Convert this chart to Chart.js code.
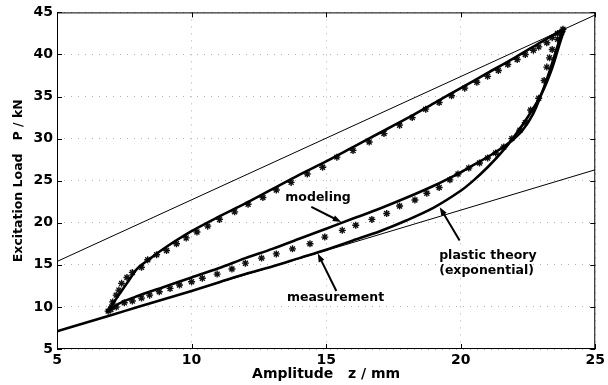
<!DOCTYPE html>
<html>
<head>
<meta charset="utf-8">
<script src="https://cdn.jsdelivr.net/npm/chart.js@4"></script>
<style>
  html, body { margin: 0; padding: 0; background: #fff; }
  #wrap { width: 608px; height: 385px; }
</style>
</head>
<body>
<div id="wrap"><canvas id="chart" width="608" height="385"></canvas></div>
<script>
// tick labels
const xTicks = [5, 10, 15, 20, 25];
const yTicks = [5, 10, 15, 20, 25, 30, 35, 40, 45];

// modeling: loading branch
const modelUpX = [6.85, 7.1, 7.4, 7.7, 8.0, 8.4, 9, 10, 11, 12, 13, 14, 15, 16, 17, 18, 19, 20, 21, 22, 23, 23.8];
const modelUpY = [9.4, 10.5, 11.9, 13.3, 14.6, 15.6, 17.0, 19.0, 20.7, 22.3, 24.0, 25.7, 27.3, 29.0, 30.7, 32.4, 34.2, 36.0, 37.8, 39.6, 41.5, 43.0];

// modeling: unloading branch
const modelDownX = [23.8, 23.55, 23.3, 23.0, 22.7, 22.3, 21.8, 21.2, 20.5, 20, 19, 18, 17, 16, 15, 14, 13, 12, 11, 10, 9, 8, 7.3, 6.85];
const modelDownY = [43.0, 40.5, 38.0, 35.3, 33.0, 31.0, 29.5, 28.2, 26.9, 26.0, 24.4, 23.0, 21.7, 20.5, 19.3, 18.1, 16.9, 15.8, 14.6, 13.5, 12.4, 11.3, 10.4, 9.4];

// measurement (stars), around the loop
const measX = [7.03, 7.07, 7.2, 7.3, 7.4, 7.6, 7.8, 8.14, 8.37, 8.7, 9.07, 9.44, 9.8, 10.2, 10.6, 11.04, 11.6, 12.1, 12.65, 13.15, 13.7, 14.3, 14.87, 15.4, 16.0, 16.6, 17.15, 17.73, 18.2, 18.7, 19.2, 19.66, 20.15, 20.6, 21.0, 21.4, 21.75, 22.1, 22.4, 22.7, 22.9, 23.2, 23.4, 23.6, 23.8,
  23.75, 23.6, 23.4, 23.3, 23.2, 23.1, 22.9, 22.6, 22.4, 22.2, 21.9, 21.6, 21.3, 21.0, 20.7, 20.3, 19.9, 19.6, 19.2, 18.74, 18.3, 17.73, 17.25, 16.7, 16.1, 15.6, 14.95, 14.4, 13.75, 13.15, 12.6, 12.0, 11.5, 10.95, 10.4, 10.0, 9.55, 9.2, 8.8, 8.44, 8.14, 7.8, 7.5, 7.2, 7.0, 6.9];
const measY = [10.0, 10.6, 11.4, 12.0, 12.8, 13.5, 14.1, 14.7, 15.6, 16.2, 16.7, 17.5, 18.2, 18.9, 19.6, 20.4, 21.3, 22.2, 23.0, 23.9, 24.8, 25.8, 26.6, 27.8, 28.6, 29.6, 30.6, 31.6, 32.5, 33.5, 34.3, 35.1, 36.0, 36.7, 37.4, 38.1, 38.8, 39.4, 40.0, 40.5, 40.9, 41.4, 42.0, 42.5, 43.0,
  42.6, 41.8, 40.6, 39.6, 38.5, 36.9, 34.8, 33.4, 31.9, 31.0, 30.0, 29.0, 28.3, 27.7, 27.1, 26.5, 25.8, 25.1, 24.2, 23.5, 22.7, 22.0, 21.1, 20.4, 19.7, 19.1, 18.3, 17.5, 16.9, 16.3, 15.8, 15.2, 14.5, 13.9, 13.4, 13.0, 12.6, 12.2, 11.8, 11.4, 11.05, 10.7, 10.5, 10.0, 9.7, 9.5];

// plastic theory (exponential)
const plasticX = [5, 6, 7, 8, 9, 10, 11, 12, 13, 14, 15, 16, 17, 18, 19, 20, 20.5, 21, 21.5, 22, 22.5, 23, 23.4, 23.7, 23.85];
const plasticY = [7.1, 8.05, 9.0, 10.0, 10.95, 11.9, 12.9, 13.9, 14.8, 15.8, 16.8, 17.9, 19.0, 20.3, 21.8, 23.8, 25.1, 26.6, 28.3, 30.3, 32.6, 35.3, 38.4, 41.5, 43.0];

// straight reference lines
const refUpperX = [5, 25];
const refUpperY = [15.4, 44.7];
const refLowerX = [5, 25];
const refLowerY = [7.1, 26.3];

const pts = (xs, ys) => xs.map((x, i) => ({ x, y: ys[i] }));

const FONT = 'DejaVu Sans';

// text labels with arrows, in data units
const notes = [
  { lines: ['modeling'], x: 14.7, y: 22.97, align: 'center', arrow: [14.45, 21.88, 15.56, 20.1] },
  { lines: ['measurement'], x: 15.35, y: 11.05, align: 'center', arrow: [15.38, 11.9, 14.69, 16.35] },
  { lines: ['plastic theory', '(exponential)'], x: 19.2, y: 16.03, align: 'left', arrow: [19.96, 17.9, 19.22, 21.85] },
];

const framePlugin = {
  id: 'frame',
  afterDraw(chart) {
    const { ctx, chartArea: a, scales } = chart;
    ctx.save();
    ctx.strokeStyle = '#000';
    ctx.lineWidth = 1;
    ctx.strokeRect(a.left + 0.5, a.top + 0.5, a.right - a.left - 1, a.bottom - a.top - 1);
    // inward ticks
    ctx.beginPath();
    xTicks.forEach(v => {
      const px = Math.round(scales.x.getPixelForValue(v)) + 0.5;
      ctx.moveTo(px, a.bottom); ctx.lineTo(px, a.bottom - 5);
      ctx.moveTo(px, a.top); ctx.lineTo(px, a.top + 5);
    });
    yTicks.forEach(v => {
      const py = Math.round(scales.y.getPixelForValue(v)) + 0.5;
      ctx.moveTo(a.left, py); ctx.lineTo(a.left + 5, py);
      ctx.moveTo(a.right, py); ctx.lineTo(a.right - 5, py);
    });
    ctx.stroke();

    // annotations
    ctx.fillStyle = '#000';
    ctx.font = 'bold 12.5px "' + FONT + '"';
    ctx.textBaseline = 'middle';
    notes.forEach(n => {
      ctx.textAlign = n.align;
      const tx = scales.x.getPixelForValue(n.x);
      const ty = scales.y.getPixelForValue(n.y);
      n.lines.forEach((s, i) => ctx.fillText(s, tx, ty + i * 15));
      const [x0, y0, x1, y1] = n.arrow;
      const ax = scales.x.getPixelForValue(x0), ay = scales.y.getPixelForValue(y0);
      const bx = scales.x.getPixelForValue(x1), by = scales.y.getPixelForValue(y1);
      const ang = Math.atan2(by - ay, bx - ax);
      ctx.lineWidth = 2;
      ctx.beginPath();
      ctx.moveTo(ax, ay);
      ctx.lineTo(bx - 6 * Math.cos(ang), by - 6 * Math.sin(ang));
      ctx.stroke();
      ctx.beginPath();
      ctx.moveTo(bx, by);
      ctx.lineTo(bx - 9 * Math.cos(ang - 0.35), by - 9 * Math.sin(ang - 0.35));
      ctx.lineTo(bx - 9 * Math.cos(ang + 0.35), by - 9 * Math.sin(ang + 0.35));
      ctx.closePath();
      ctx.fill();
    });
    ctx.restore();
  }
};

const ctx = document.getElementById('chart').getContext('2d');

new Chart(ctx, {
  type: 'scatter',
  data: {
    datasets: [
      {
        label: 'upper reference',
        data: pts(refUpperX, refUpperY),
        showLine: true,
        borderColor: '#000',
        borderWidth: 1,
        pointRadius: 0,
      },
      {
        label: 'lower reference',
        data: pts(refLowerX, refLowerY),
        showLine: true,
        borderColor: '#000',
        borderWidth: 1,
        pointRadius: 0,
      },
      {
        label: 'plastic theory',
        data: pts(plasticX, plasticY),
        showLine: true,
        borderColor: '#000',
        borderWidth: 2.6,
        pointRadius: 0,
        tension: 0.3,
      },
      {
        label: 'modeling up',
        data: pts(modelUpX, modelUpY),
        showLine: true,
        borderColor: '#000',
        borderWidth: 2.6,
        pointRadius: 0,
        tension: 0.3,
      },
      {
        label: 'modeling down',
        data: pts(modelDownX, modelDownY),
        showLine: true,
        borderColor: '#000',
        borderWidth: 2.6,
        pointRadius: 0,
        tension: 0.3,
      },
      {
        label: 'measurement',
        data: pts(measX, measY),
        showLine: false,
        pointStyle: 'star',
        pointRadius: 3.5,
        borderWidth: 1.4,
        borderColor: '#111',
        backgroundColor: '#111',
      },
    ],
  },
  options: {
    responsive: false,
    animation: false,
    events: [],
    layout: { padding: { top: 12, right: 12, left: 0, bottom: 0 } },
    plugins: {
      legend: { display: false },
      tooltip: { enabled: false },
    },
    scales: {
      x: {
        type: 'linear',
        min: 5,
        max: 25,
        afterFit(scale) { scale.height = 36; },
        afterBuildTicks(scale) { scale.ticks = xTicks.map(v => ({ value: v })); },
        grid: { color: 'rgba(0,0,0,0.3)', drawTicks: false, lineWidth: 1 },
        border: { display: false, dash: [1, 6] },
        ticks: {
          padding: 3,
          color: '#000',
          font: { family: FONT, size: 14, weight: 'bold' },
          maxRotation: 0,
        },
        title: {
          display: true,
          text: 'Amplitude   z / mm',
          color: '#000',
          font: { family: FONT, size: 14, weight: 'bold' },
          padding: { top: 0, bottom: 2.6 },
        },
      },
      y: {
        type: 'linear',
        min: 5,
        max: 45,
        afterFit(scale) { scale.width = 57; },
        afterBuildTicks(scale) { scale.ticks = yTicks.map(v => ({ value: v })); },
        grid: { color: 'rgba(0,0,0,0.3)', drawTicks: false, lineWidth: 1 },
        border: { display: false, dash: [1, 6] },
        ticks: {
          padding: 4,
          color: '#000',
          font: { family: FONT, size: 14, weight: 'bold' },
        },
        title: {
          display: true,
          text: 'Excitation Load   P / kN',
          color: '#000',
          font: { family: FONT, size: 12.5, weight: 'bold' },
          padding: { top: 11.5, bottom: 0 },
        },
      },
    },
  },
  plugins: [framePlugin],
});
</script>
</body>
</html>
